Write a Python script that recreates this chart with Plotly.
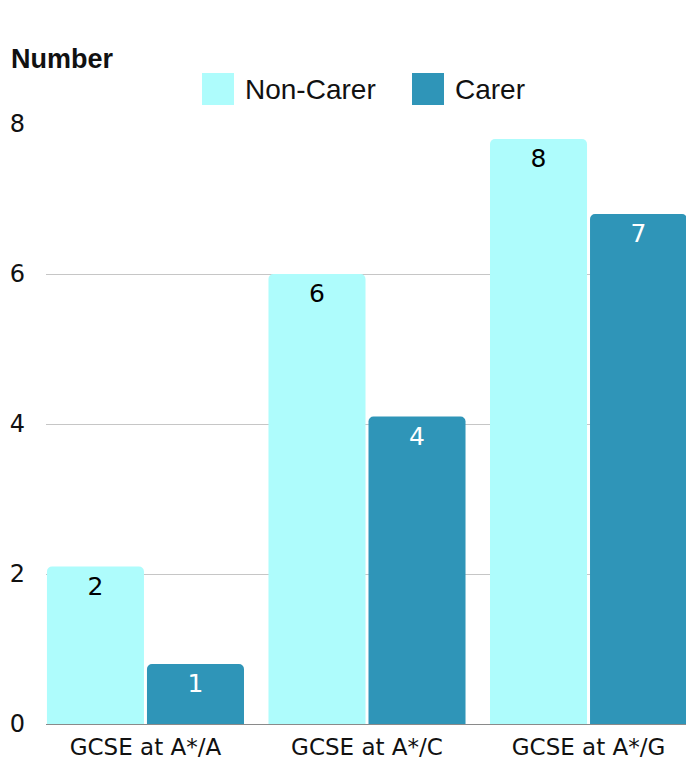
import plotly.graph_objects as go

categories = ["GCSE at A*/A", "GCSE at A*/C", "GCSE at A*/G"]
non_carer = [2.1, 6.0, 7.8]
carer = [0.8, 4.1, 6.8]
non_carer_labels = ["2", "6", "8"]
carer_labels = ["1", "4", "7"]
y_ticks = [0, 2, 4, 6, 8]

W, H = 686, 762
L, R, T, B = 46, 0, 124, 38
PW, PH = W - L - R, H - T - B

def px(x):
    return (x - L) / PW

def py(y):
    return (H - B - y) / PH

C_NON = "#AEFCFC"
C_CAR = "#2F95B8"
TICK_FONT = "DejaVu Sans"

fig = go.Figure()
fig.add_trace(go.Bar(
    x=categories, y=non_carer, name="Non-Carer", marker=dict(color=C_NON, line=dict(width=0)),
    text=non_carer_labels, textposition="inside", insidetextanchor="end",
    textfont=dict(color="#000000", size=25, family=TICK_FONT), textangle=0,
))
fig.add_trace(go.Bar(
    x=categories, y=carer, name="Carer", marker=dict(color=C_CAR, line=dict(width=0)),
    text=carer_labels, textposition="inside", insidetextanchor="end",
    textfont=dict(color="#FFFFFF", size=25, family=TICK_FONT), textangle=0,
))

shapes = []
annotations = []
# custom legend
for x0, label, col in [(202, "Non-Carer", C_NON), (412, "Carer", C_CAR)]:
    shapes.append(dict(type="rect", xref="paper", yref="paper",
                       x0=px(x0), x1=px(x0 + 32), y0=py(105), y1=py(73),
                       fillcolor=col, line=dict(width=0)))
    annotations.append(dict(x=px(x0 + 41), y=py(89), xref="paper", yref="paper",
                            text=label, showarrow=False, xanchor="left", yanchor="middle",
                            font=dict(family="Liberation Sans", size=28, color="#111111")))
annotations.append(dict(x=px(9), y=py(59), xref="paper", yref="paper",
                        text="<b>Number</b>", showarrow=False, xanchor="left", yanchor="middle",
                        font=dict(family="Liberation Sans", size=27, color="#111111")))

fig.update_layout(
    width=W, height=H,
    margin=dict(l=L, r=R, t=T, b=B, autoexpand=False),
    paper_bgcolor="white", plot_bgcolor="white",
    barmode="group", bargap=0.097, bargroupgap=0.03,
    barcornerradius=5,
    showlegend=False,
    shapes=shapes, annotations=annotations,
)
fig.update_xaxes(
    range=[-0.449, 2.44], showgrid=False, showline=True, linecolor="#8a8a8a", linewidth=1,
    ticks="", tickfont=dict(family=TICK_FONT, size=23, color="#111111"),
    automargin=False, fixedrange=True, ticklabelstandoff=2,
)
fig.update_yaxes(
    range=[0, 8], tickvals=y_ticks, showgrid=True, gridcolor="#c6c6c6", gridwidth=1,
    zeroline=False, showline=False, ticks="",
    tickfont=dict(family=TICK_FONT, size=24, color="#111111"),
    automargin=False, fixedrange=True, ticklabelstandoff=20,
)

fig.write_html("out.html")
